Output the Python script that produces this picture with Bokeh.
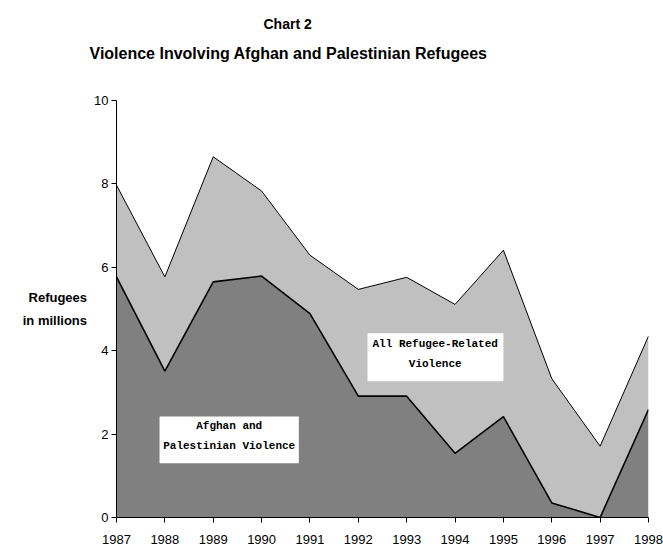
from bokeh.plotting import figure
from bokeh.models import Label, BoxAnnotation, FixedTicker, Range1d, Title
from bokeh.embed import file_html
from bokeh.resources import INLINE

years = [1987, 1988, 1989, 1990, 1991, 1992, 1993, 1994, 1995, 1996, 1997, 1998]
all_refugee = [7.97, 5.77, 8.65, 7.83, 6.29, 5.47, 5.76, 5.11, 6.41, 3.33, 1.71, 4.35]
afghan_pal = [5.77, 3.51, 5.65, 5.79, 4.89, 2.91, 2.91, 1.54, 2.42, 0.35, 0.0, 2.59]
y_ticks = [0, 2, 4, 6, 8, 10]

title_main = "Violence Involving Afghan and Palestinian Refugees"
title_sub = "Chart 2"
y_label = "Refugees\nin millions"
label_all = "All Refugee-Related\nViolence"
label_af = "Afghan and\nPalestinian Violence"

p = figure(width=663, height=546, output_backend="svg", toolbar_location=None,
           x_range=Range1d(1987, 1998), y_range=Range1d(0, 10),
           min_border_left=116, min_border_right=15, min_border_top=100,
           min_border_bottom=29)
p.outline_line_color = None
p.xgrid.visible = False
p.ygrid.visible = False
p.background_fill_color = "white"
p.border_fill_color = "white"

# titles: p.title is outermost ("Chart 2"); added titles stack from the frame outward
p.title.text = title_sub
p.title.align = "left"
p.title.offset = 147
p.title.text_font = "Liberation Sans"
p.title.text_font_style = "bold"
p.title.text_font_size = "14px"
p.title.text_color = "black"
p.title.standoff = 19
# spacer (nearest the frame)
p.add_layout(Title(text=" ", text_font_size="1px", standoff=35), "above")
p.add_layout(Title(text=title_main, align="left", offset=-27, standoff=2,
                   text_font="Liberation Sans", text_font_style="bold",
                   text_font_size="16px", text_color="black"), "above")

zeros = [0] * len(years)
p.varea(x=years, y1=afghan_pal, y2=all_refugee, fill_color="#C0C0C0")
p.varea(x=years, y1=zeros, y2=afghan_pal, fill_color="#808080")
p.line(years, all_refugee, line_color="black", line_width=1)
p.line(years, afghan_pal, line_color="black", line_width=1.6)

for ax in (p.xaxis[0], p.yaxis[0]):
    ax.axis_line_color = "black"
    ax.axis_line_width = 1
    ax.major_tick_line_color = "black"
    ax.major_tick_in = 0
    ax.major_tick_out = 5
    ax.minor_tick_line_color = None
    ax.major_label_text_font = "Liberation Sans"
    ax.major_label_text_font_size = "13px"
    ax.major_label_text_color = "black"

p.xaxis.ticker = FixedTicker(ticks=years)
p.yaxis.ticker = FixedTicker(ticks=y_ticks)
p.xaxis.major_label_standoff = 12
p.yaxis.major_label_standoff = 3

yax = p.yaxis[0]
if "axis_label_orientation" in yax.properties():
    yax.axis_label = y_label
    yax.axis_label_orientation = "horizontal"
    yax.axis_label_text_font = "Liberation Sans"
    yax.axis_label_text_font_style = "bold"
    yax.axis_label_text_font_size = "13px"
    yax.axis_label_text_color = "black"
    yax.axis_label_text_line_height = 1.5
    yax.axis_label_standoff = 4
    yax.axis_label_text_align = "center"
else:
    p.add_layout(Label(x=57, y=236, x_units="screen", y_units="screen", text=y_label,
                       text_align="center", text_baseline="middle",
                       text_font="Liberation Sans", text_font_style="bold",
                       text_font_size="13px", text_color="black"))

# white boxes behind text labels
p.add_layout(BoxAnnotation(left=1992.19, right=1995.0, bottom=3.27, top=4.42,
                           fill_color="white", fill_alpha=1, line_color=None))
p.add_layout(BoxAnnotation(left=1987.89, right=1990.77, bottom=1.30, top=2.42,
                           fill_color="white", fill_alpha=1, line_color=None))

p.add_layout(Label(x=1993.59, y=3.92, text=label_all, text_align="center",
                   text_baseline="middle", text_font="Liberation Mono",
                   text_font_style="bold", text_font_size="11px",
                   text_line_height=1.7, text_color="black"))
p.add_layout(Label(x=1989.33, y=1.95, text=label_af, text_align="center",
                   text_baseline="middle", text_font="Liberation Mono",
                   text_font_style="bold", text_font_size="11px",
                   text_line_height=1.7, text_color="black"))

open("out.html", "w").write(file_html(p, INLINE))
